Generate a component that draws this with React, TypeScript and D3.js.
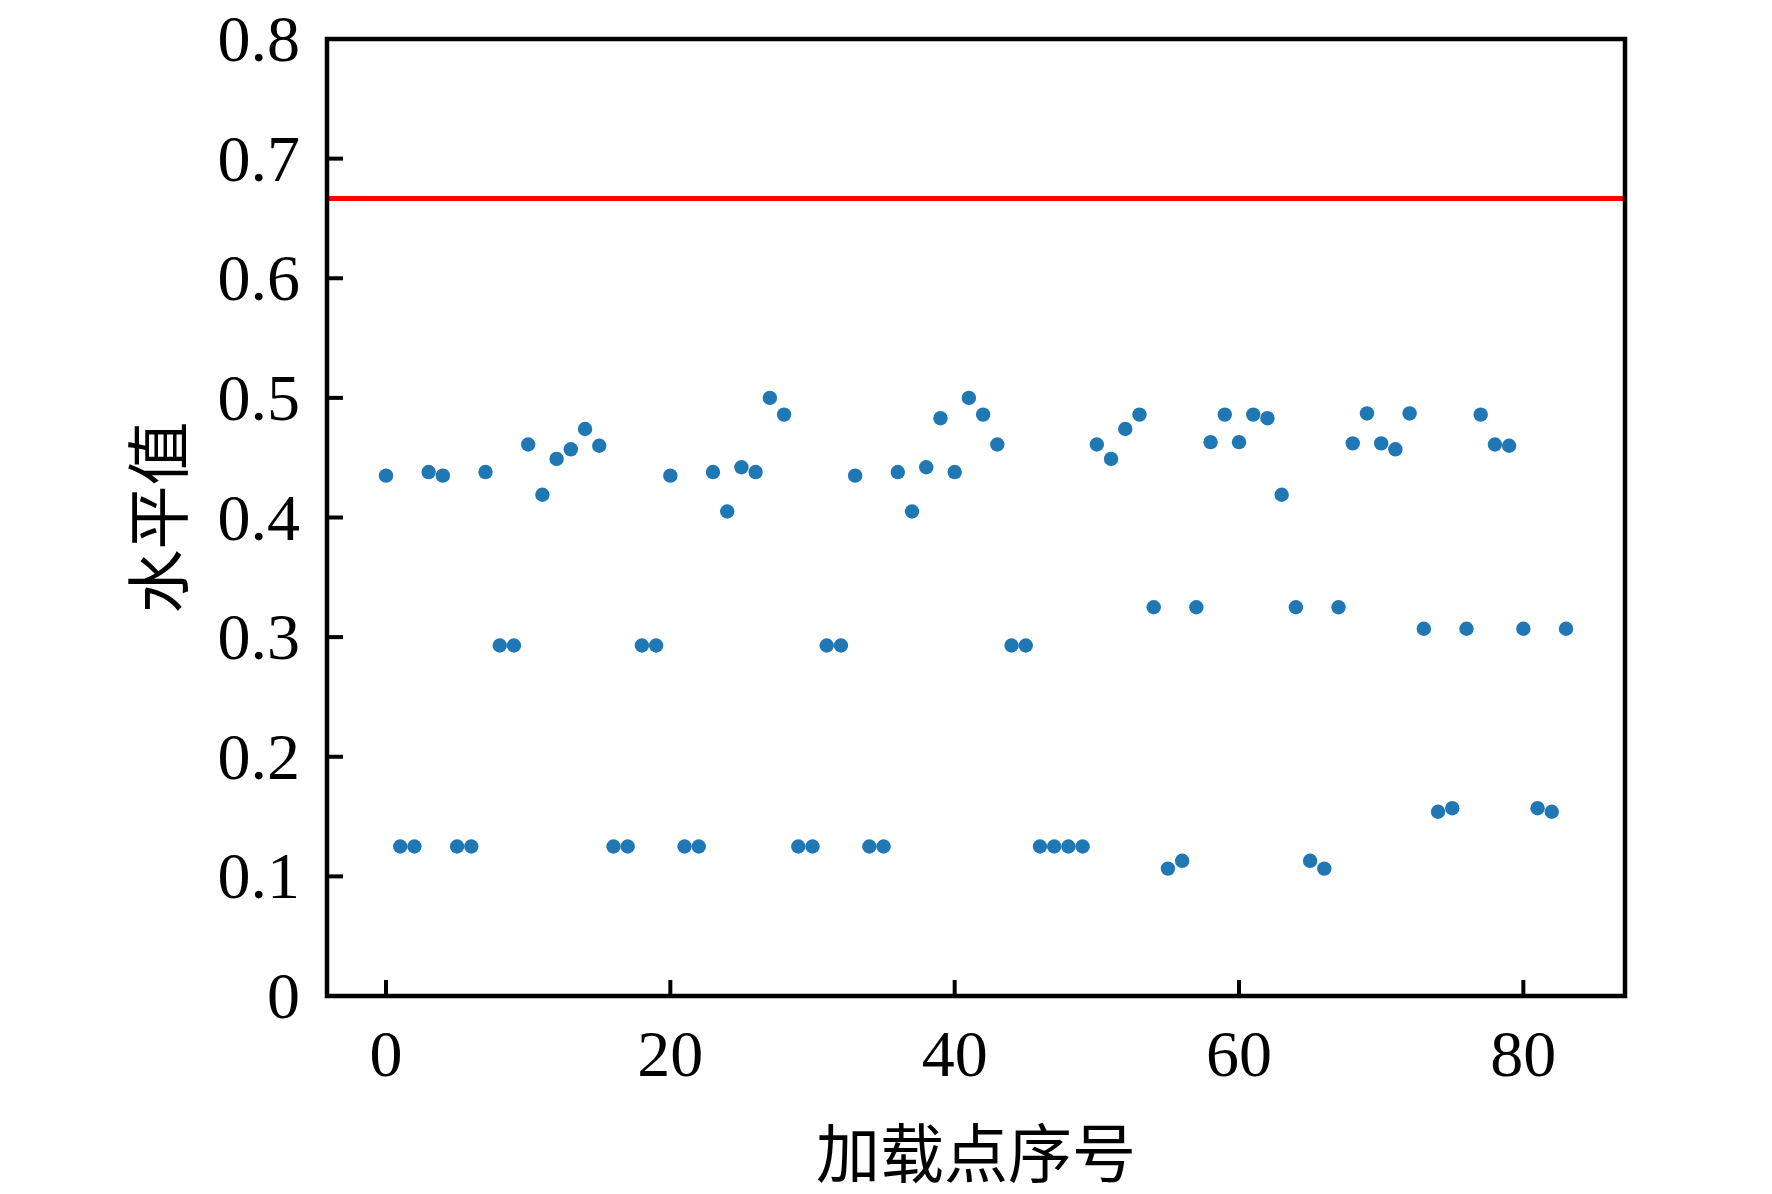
import React, { useEffect, useRef } from 'react';
import * as d3 from 'd3';

// loading point index -> level value
const levelValues: number[] = [
  0.435, 0.125, 0.125, 0.438, 0.435, 0.125, 0.125, 0.438, 0.293, 0.293,
  0.461, 0.419, 0.449, 0.457, 0.474, 0.460, 0.125, 0.125, 0.293, 0.293,
  0.435, 0.125, 0.125, 0.438, 0.405, 0.442, 0.438, 0.500, 0.486, 0.125,
  0.125, 0.293, 0.293, 0.435, 0.125, 0.125, 0.438, 0.405, 0.442, 0.483,
  0.438, 0.500, 0.486, 0.461, 0.293, 0.293, 0.125, 0.125, 0.125, 0.125,
  0.461, 0.449, 0.474, 0.486, 0.325, 0.1065, 0.113, 0.325, 0.463, 0.486,
  0.463, 0.486, 0.483, 0.419, 0.325, 0.113, 0.1065, 0.325, 0.462, 0.487,
  0.462, 0.457, 0.487, 0.307, 0.154, 0.157, 0.307, 0.486, 0.461, 0.460,
  0.307, 0.157, 0.154, 0.307,
];

const xTicks = [0, 20, 40, 60, 80];
const yTicks = [0, 0.1, 0.2, 0.3, 0.4, 0.5, 0.6, 0.7, 0.8];
const yTickLabels = ['0', '0.1', '0.2', '0.3', '0.4', '0.5', '0.6', '0.7', '0.8'];
const limitLevel = 2 / 3;

const xTitle = '加载点序号';
const yTitle = '水平值';

const App: React.FC = () => {
  const svgRef = useRef<SVGSVGElement>(null);

  useEffect(() => {
    document.body.style.margin = '0';
    if (!svgRef.current) return;

    const width = 1772;
    const height = 1194;
    const left = 327;
    const right = 1625;
    const top = 39;
    const bottom = 996;

    const svg = d3.select(svgRef.current);
    svg.selectAll('*').remove();
    svg.attr('width', width).attr('height', height);

    svg.append('rect').attr('width', width).attr('height', height).attr('fill', 'white');

    const n = levelValues.length - 1;
    const pad = n * 0.05;
    const x = d3.scaleLinear().domain([-pad, n + pad]).range([left, right]);
    const y = d3.scaleLinear().domain([0, 0.8]).range([bottom, top]);

    const numFont = '"Liberation Serif", "Times New Roman", serif';
    const cjkFont = '"Noto Sans CJK SC", sans-serif';

    // threshold line
    svg.append('line')
      .attr('x1', left + 2)
      .attr('x2', right - 2)
      .attr('y1', y(limitLevel))
      .attr('y2', y(limitLevel))
      .attr('stroke', '#ff0000')
      .attr('stroke-width', 5);

    // scatter points
    svg.append('g')
      .selectAll('circle')
      .data(levelValues)
      .join('circle')
      .attr('cx', (_d, i) => x(i))
      .attr('cy', (d) => y(d))
      .attr('r', 7.2)
      .attr('fill', '#1f77b4');

    // ticks (inward)
    const tickLen = 16;
    svg.append('g')
      .selectAll('line')
      .data(xTicks)
      .join('line')
      .attr('x1', (d) => x(d))
      .attr('x2', (d) => x(d))
      .attr('y1', bottom)
      .attr('y2', bottom - tickLen)
      .attr('stroke', 'black')
      .attr('stroke-width', 4);

    svg.append('g')
      .selectAll('line')
      .data(yTicks)
      .join('line')
      .attr('x1', left)
      .attr('x2', left + tickLen)
      .attr('y1', (d) => y(d))
      .attr('y2', (d) => y(d))
      .attr('stroke', 'black')
      .attr('stroke-width', 4);

    // frame
    svg.append('rect')
      .attr('x', left)
      .attr('y', top)
      .attr('width', right - left)
      .attr('height', bottom - top)
      .attr('fill', 'none')
      .attr('stroke', 'black')
      .attr('stroke-width', 4.5);

    // tick labels
    svg.append('g')
      .selectAll('text')
      .data(xTicks)
      .join('text')
      .attr('x', (d) => x(d))
      .attr('y', 1076)
      .attr('text-anchor', 'middle')
      .attr('font-family', numFont)
      .attr('font-size', 66)
      .attr('fill', 'black')
      .text((d) => String(d));

    svg.append('g')
      .selectAll('text')
      .data(yTicks)
      .join('text')
      .attr('x', 300)
      .attr('y', (d) => y(d) + 22)
      .attr('text-anchor', 'end')
      .attr('font-family', numFont)
      .attr('font-size', 66)
      .attr('fill', 'black')
      .text((_d, i) => yTickLabels[i]);

    // axis titles
    svg.append('text')
      .attr('x', (left + right) / 2)
      .attr('y', 1149)
      .attr('text-anchor', 'middle')
      .attr('dominant-baseline', 'central')
      .attr('font-family', cjkFont)
      .attr('font-size', 64)
      .attr('fill', 'black')
      .text(xTitle);

    svg.append('text')
      .attr('transform', `translate(154,${(top + bottom) / 2}) rotate(-90)`)
      .attr('text-anchor', 'middle')
      .attr('dominant-baseline', 'central')
      .attr('font-family', cjkFont)
      .attr('font-size', 64)
      .attr('fill', 'black')
      .text(yTitle);
  }, []);

  return <svg ref={svgRef} style={{ display: 'block' }} />;
};

export default App;
